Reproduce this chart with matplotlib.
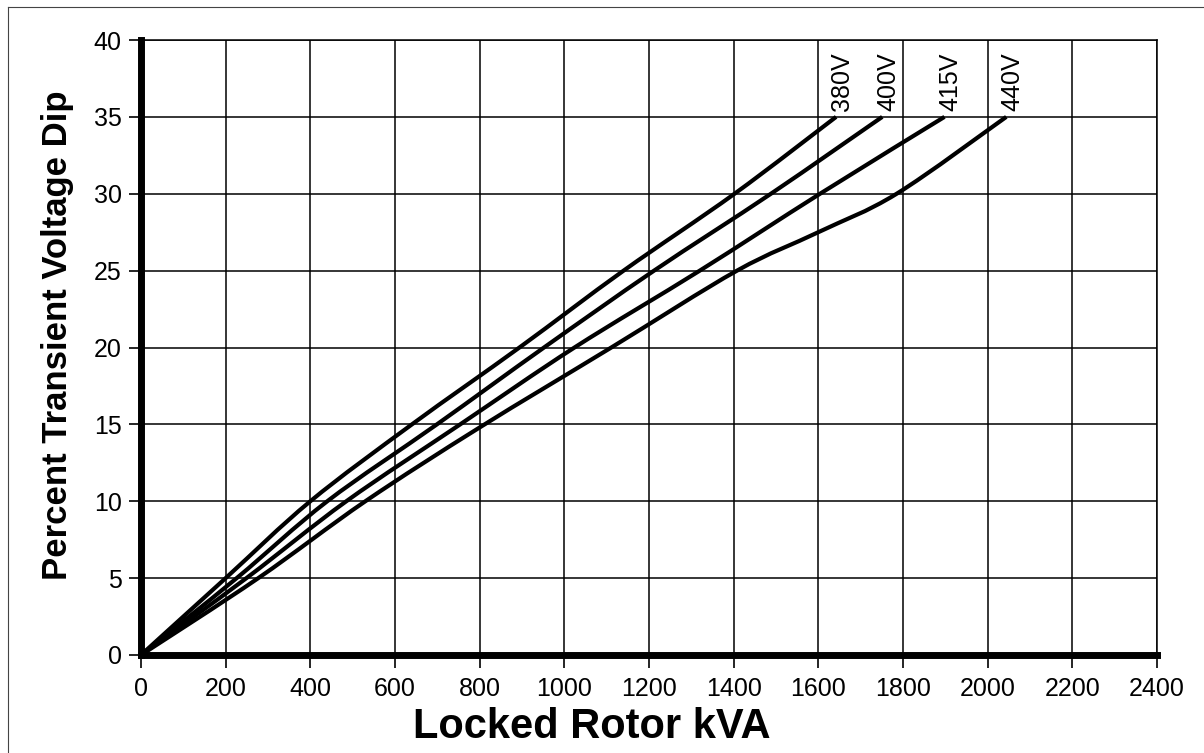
import matplotlib
matplotlib.use("Agg")
import matplotlib.pyplot as plt
from matplotlib.lines import Line2D
from matplotlib.path import Path
from matplotlib.patches import PathPatch

plt.rcParams['font.family'] = ['Liberation Sans', 'DejaVu Sans']

# ---- data ----
labels = ["380V", "400V", "415V", "440V"]
kva_380 = [0, 200, 400, 640, 894, 1140, 1402, 1642]
dip_380 = [0, 5, 10, 15, 20, 25, 30, 35]
kva_400 = [0, 226, 440, 699, 952, 1212, 1488, 1751]
dip_400 = [0, 5, 10, 15, 20, 25, 30, 35]
kva_415 = [0, 249, 485, 754, 1024, 1320, 1604, 1898]
dip_415 = [0, 5, 10, 15, 20, 25, 30, 35]
kva_440 = [0, 277, 530, 800, 1111, 1408, 1600, 1785, 2044]
dip_440 = [0, 5, 10, 14.8, 20, 25, 27.5, 30, 35]
series_kva = [kva_380, kva_400, kva_415, kva_440]
series_dip = [dip_380, dip_400, dip_415, dip_440]
x_ticks = list(range(0, 2401, 200))
y_ticks = list(range(0, 41, 5))

W, H = 1204, 753
fig = plt.figure(figsize=(W / 100, H / 100), dpi=100)
ax = fig.add_axes([141 / W, 1 - 655 / H, (1157 - 141) / W, (655 - 40) / H])

ax.set_xlim(0, 2400)
ax.set_ylim(0, 40)
ax.set_xticks(x_ticks)
ax.set_yticks(y_ticks)
ax.grid(True, color='black', linewidth=1.1)
ax.set_axisbelow(True)


def smooth_path(xs, ys):
    """Cubic Bezier path through the read points (Catmull-Rom tangents)."""
    sx, sy = 1016 / 2400, 615 / 40  # roughly equal-scale space for tangents
    px = [v * sx for v in xs]
    py = [v * sy for v in ys]
    n = len(px)
    verts = [(xs[0], ys[0])]
    codes = [Path.MOVETO]
    for i in range(n - 1):
        p0 = i - 1 if i > 0 else i
        p3 = i + 2 if i + 2 < n else i + 1
        t1x = (px[i + 1] - px[p0]) / 6.0
        t1y = (py[i + 1] - py[p0]) / 6.0
        t2x = (px[p3] - px[i]) / 6.0
        t2y = (py[p3] - py[i]) / 6.0
        c1 = ((px[i] + t1x) / sx, (py[i] + t1y) / sy)
        c2 = ((px[i + 1] - t2x) / sx, (py[i + 1] - t2y) / sy)
        verts += [c1, c2, (xs[i + 1], ys[i + 1])]
        codes += [Path.CURVE4] * 3
    return Path(verts, codes)


for k, d in zip(series_kva, series_dip):
    ax.add_patch(PathPatch(smooth_path(k, d), facecolor='none', edgecolor='black',
                           linewidth=3.0, capstyle='butt', zorder=3))

for lab, k, d in zip(labels, series_kva, series_dip):
    ax.text(k[-1] + 14, d[-1] + 0.35, lab, rotation=90, ha='center', va='bottom',
            fontsize=18, color='black', zorder=4)

for s in ['top', 'right']:
    ax.spines[s].set_linewidth(1.1)
ax.spines['left'].set_linewidth(5)
ax.spines['bottom'].set_linewidth(5)
ax.spines['left'].set_zorder(5)
ax.spines['bottom'].set_zorder(5)

ax.tick_params(axis='x', direction='out', length=9, width=1.2, pad=7, labelsize=18)
ax.tick_params(axis='y', direction='out', length=9, width=1.2, pad=5, labelsize=18)

fig.text(592 / W, 1 - 727 / H, "Locked Rotor kVA", fontsize=30, fontweight='bold',
         ha='center', va='center')
fig.text(58 / W, 1 - 335 / H, "Percent Transient Voltage Dip", fontsize=25,
         fontweight='bold', rotation=90, ha='center', va='center')

# thin frame around the figure (left and top edges visible in the reference)
fig.add_artist(Line2D([8 / W, 8 / W], [0, 1 - 7 / H], transform=fig.transFigure,
                      color='#444444', linewidth=0.8))
fig.add_artist(Line2D([8 / W, 1], [1 - 7 / H, 1 - 7 / H], transform=fig.transFigure,
                      color='#444444', linewidth=0.8))

fig.savefig("out.png", dpi=100, facecolor='white')
